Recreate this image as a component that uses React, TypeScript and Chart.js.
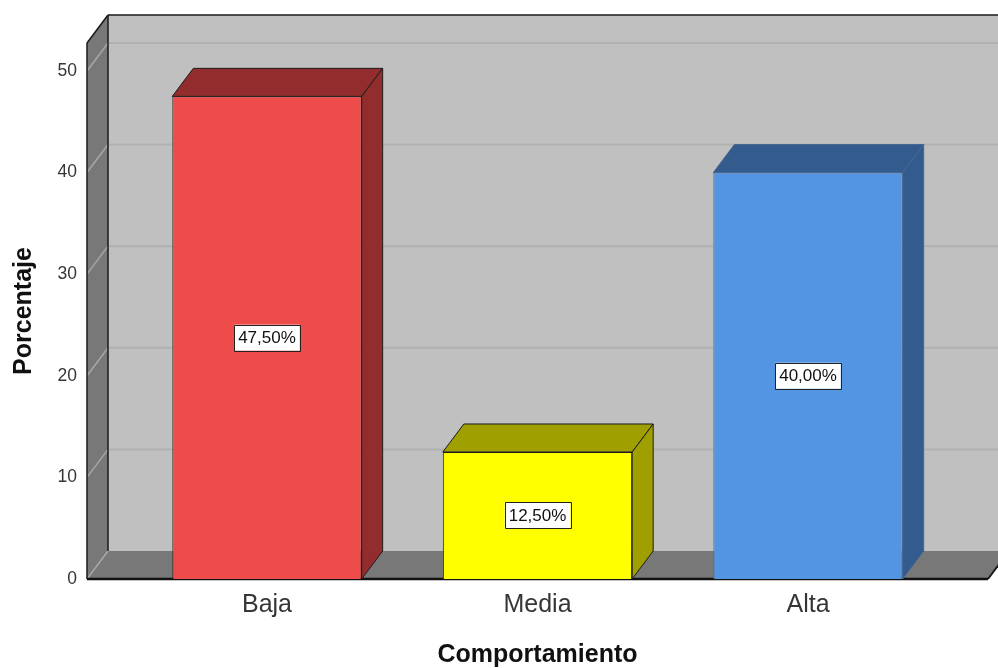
import { useEffect, useRef } from 'react';
import { Chart, registerables } from 'chart.js';

Chart.register(...registerables);

// Frequency table: Comportamiento (percent of cases)
const categories = ['Baja', 'Media', 'Alta'];
const percentages = [47.5, 12.5, 40.0];
const yTicks = [0, 10, 20, 30, 40, 50];

const frontColors = ['#EE4B4B', '#FFFF00', '#5495E3'];
const shadeColors = ['#932D2D', '#A09F00', '#335B8D'];
const edgeColors = ['#1c1c1c', '#1c1c1c', '#46678f'];

// Perspective offset of the back plane
const DEPTH_X = 21;
const DEPTH_Y = -28;

const formatPercent = (v: number) => v.toFixed(2).replace('.', ',') + '%';

function poly(ctx: CanvasRenderingContext2D, pts: number[][], fill?: string, stroke?: string, lw = 1) {
  ctx.beginPath();
  ctx.moveTo(pts[0][0], pts[0][1]);
  for (let i = 1; i < pts.length; i++) ctx.lineTo(pts[i][0], pts[i][1]);
  ctx.closePath();
  if (fill) {
    ctx.fillStyle = fill;
    ctx.fill();
  }
  if (stroke) {
    ctx.strokeStyle = stroke;
    ctx.lineWidth = lw;
    ctx.stroke();
  }
}

function line(ctx: CanvasRenderingContext2D, x1: number, y1: number, x2: number, y2: number, color: string, lw: number) {
  ctx.beginPath();
  ctx.moveTo(x1, y1);
  ctx.lineTo(x2, y2);
  ctx.strokeStyle = color;
  ctx.lineWidth = lw;
  ctx.stroke();
}

// Walls, floor and grid of the 3D frame
const framePlugin = {
  id: 'frame3d',
  beforeDatasetsDraw(chart: any) {
    const { ctx, chartArea } = chart;
    const { left, right, top, bottom } = chartArea;
    const y = chart.scales.y;
    const dx = DEPTH_X;
    const dy = DEPTH_Y;
    ctx.save();
    // back wall
    poly(ctx, [[left + dx, top + dy], [right + dx, top + dy], [right + dx, bottom + dy], [left + dx, bottom + dy]], '#c0c0c0');
    // left wall
    poly(ctx, [[left, top], [left + dx, top + dy], [left + dx, bottom + dy], [left, bottom]], '#787878');
    // floor
    poly(ctx, [[left, bottom], [left + dx, bottom + dy], [right + dx, bottom + dy], [right, bottom]], '#787878');

    // grid lines
    for (const v of yTicks) {
      const py = y.getPixelForValue(v);
      if (v > 0) line(ctx, left + dx, py + dy, right + dx, py + dy, '#b1b1b1', 2);
      line(ctx, left, py, left + dx, py + dy, '#a6a6a6', 1.5);
    }

    // frame edges
    line(ctx, left + dx, top + dy, left + dx, bottom + dy, '#1a1a1a', 1.5);
    line(ctx, left + dx, top + dy, right + dx, top + dy, '#1a1a1a', 1.5);
    line(ctx, left, top, left + dx, top + dy, '#1a1a1a', 1.5);
    line(ctx, left, top, left, bottom, '#1a1a1a', 1.5);
    line(ctx, right, bottom, right + dx, bottom + dy, '#1a1a1a', 2);
    line(ctx, left, bottom, right, bottom, '#111111', 2.5);
    ctx.restore();
  },
  afterDatasetsDraw(chart: any) {
    const { ctx } = chart;
    const meta = chart.getDatasetMeta(0);
    const dx = DEPTH_X;
    const dy = DEPTH_Y;
    ctx.save();
    ctx.lineJoin = 'round';
    meta.data.forEach((el: any, i: number) => {
      const { x, y, base, width } = el.getProps(['x', 'y', 'base', 'width'], true);
      const l = x - width / 2;
      const r = x + width / 2;
      // top face
      poly(ctx, [[l, y], [l + dx, y + dy], [r + dx, y + dy], [r, y]], shadeColors[i], edgeColors[i], 1);
      // side face
      poly(ctx, [[r, y], [r + dx, y + dy], [r + dx, base + dy], [r, base]], shadeColors[i], edgeColors[i], 1);
    });

    // value labels
    ctx.font = '17px Arial, "Liberation Sans", sans-serif';
    ctx.textAlign = 'center';
    ctx.textBaseline = 'middle';
    meta.data.forEach((el: any, i: number) => {
      const { x, y, base } = el.getProps(['x', 'y', 'base'], true);
      const text = formatPercent(percentages[i]);
      const cy = (y + base) / 2;
      const w = ctx.measureText(text).width + 8;
      const h = 26;
      ctx.fillStyle = '#ffffff';
      ctx.fillRect(x - w / 2, cy - h / 2, w, h);
      ctx.strokeStyle = '#222222';
      ctx.lineWidth = 1;
      ctx.strokeRect(Math.round(x - w / 2) + 0.5, Math.round(cy - h / 2) + 0.5, Math.round(w), h);
      ctx.fillStyle = '#111111';
      ctx.fillText(text, x, cy + 1);
    });
    ctx.restore();
  },
};

export default function App() {
  const canvasRef = useRef<HTMLCanvasElement>(null);

  useEffect(() => {
    const canvas = canvasRef.current;
    if (!canvas) return;
    const chart = new Chart(canvas, {
      type: 'bar',
      data: {
        datasets: [
          {
            data: percentages.map((v, i) => ({ x: i, y: v })),
            backgroundColor: frontColors,
            borderColor: edgeColors,
            borderWidth: 1,
            barPercentage: 0.7,
            categoryPercentage: 1,
          },
        ],
      },
      options: {
        responsive: false,
        animation: false,
        devicePixelRatio: 1,
        layout: { padding: { top: 43, right: 10, left: 0, bottom: 0 } },
        plugins: {
          legend: { display: false },
          tooltip: { enabled: false },
        },
        scales: {
          x: {
            type: 'linear',
            offset: false,
            min: -0.6654,
            max: 2.6654,
            grid: { display: false, drawTicks: false, tickLength: 0, offset: false },
            border: { display: false },
            afterDataLimits: (scale: any) => {
              scale.min = -0.6654;
              scale.max = 2.6654;
            },
            afterBuildTicks: (scale: any) => {
              scale.ticks = categories.map((_, i) => ({ value: i }));
            },
            afterFit: (scale: any) => {
              scale.height = 89;
            },
            ticks: {
              autoSkip: false,
              maxRotation: 0,
              padding: 11,
              color: '#363636',
              font: { family: 'Arial, "Liberation Sans", sans-serif', size: 25, lineHeight: 1.2 },
              callback: (value: any) => categories[Math.round(Number(value))] ?? '',
            },
            title: {
              display: true,
              text: 'Comportamiento',
              color: '#111111',
              padding: 0,
              font: { family: 'Arial, "Liberation Sans", sans-serif', size: 25, weight: 'bold', lineHeight: 1 },
            },
          },
          y: {
            type: 'linear',
            min: 0,
            max: 52.75,
            grid: { display: false, drawTicks: false, tickLength: 0 },
            border: { display: false },
            afterBuildTicks: (scale: any) => {
              scale.ticks = yTicks.map((v) => ({ value: v }));
            },
            afterFit: (scale: any) => {
              scale.width = 87;
            },
            ticks: {
              padding: 10,
              color: '#363636',
              font: { family: 'Arial, "Liberation Sans", sans-serif', size: 17.5 },
            },
            title: {
              display: true,
              text: 'Porcentaje',
              color: '#111111',
              padding: { top: 9, bottom: 0 },
              font: { family: 'Arial, "Liberation Sans", sans-serif', size: 25, weight: 'bold', lineHeight: 1.2 },
            },
          },
        },
      },
      plugins: [framePlugin],
    } as any);
    return () => chart.destroy();
  }, []);

  return (
    <div style={{ position: 'fixed', left: 0, top: 0, width: 998, height: 668, background: '#ffffff' }}>
      <canvas ref={canvasRef} width={998} height={668} style={{ display: 'block' }} />
    </div>
  );
}
